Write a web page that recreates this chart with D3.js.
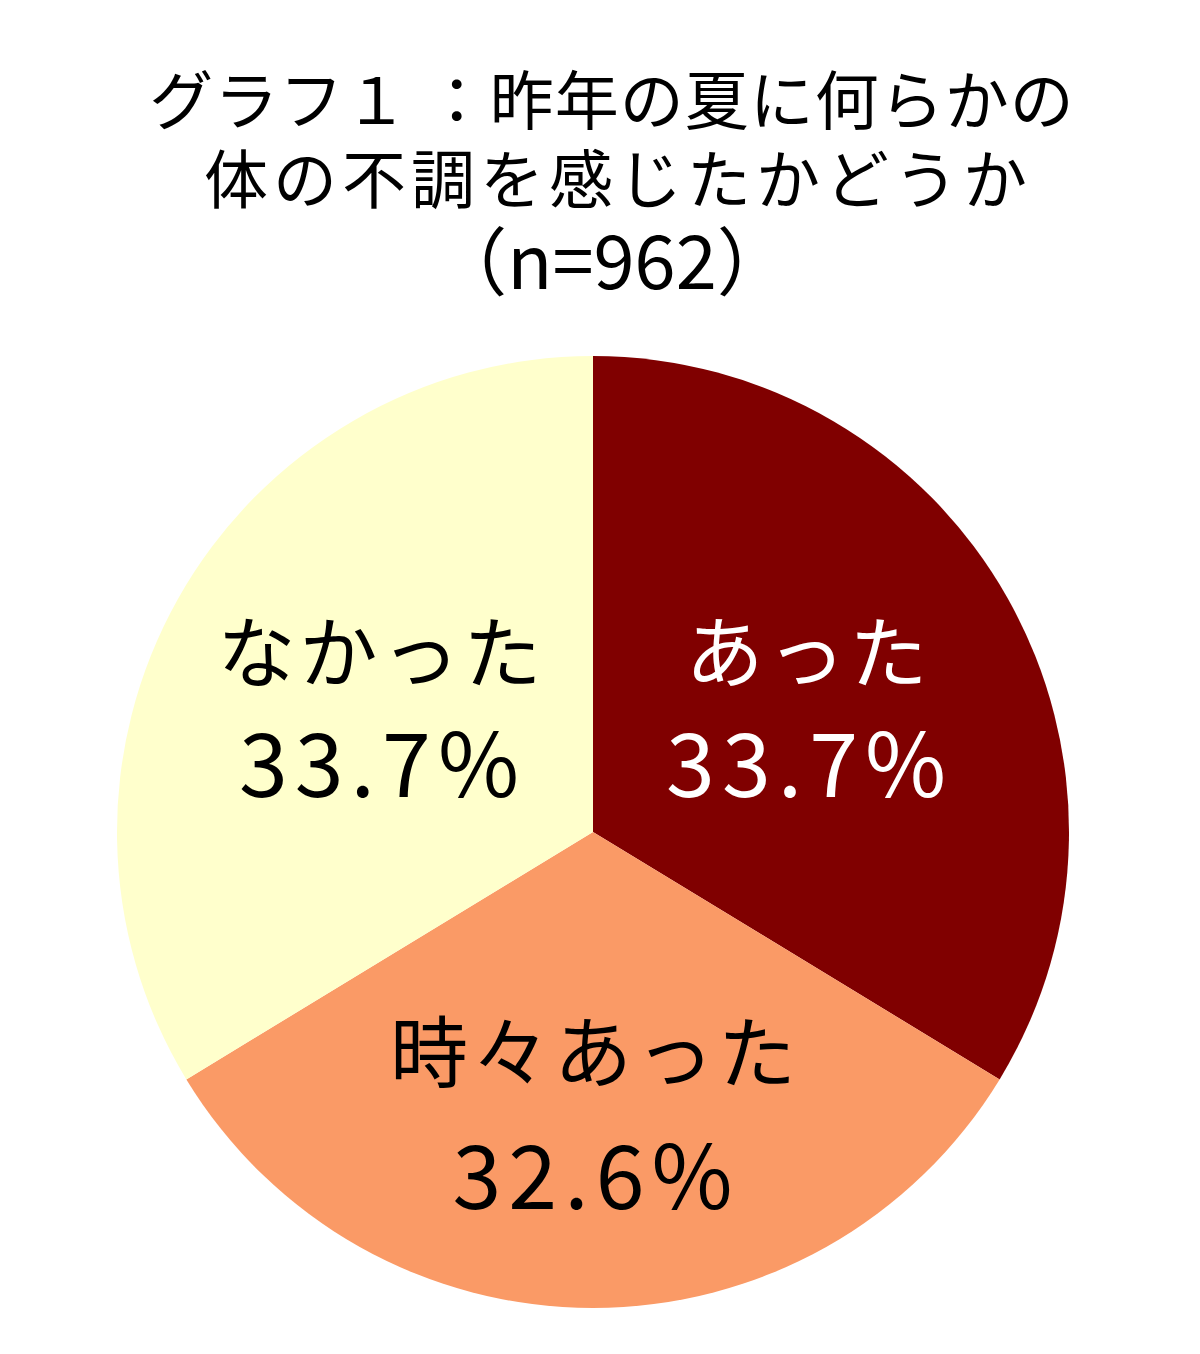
<!DOCTYPE html>
<html>
<head>
<meta charset="utf-8">
<script src="https://cdn.jsdelivr.net/npm/d3@7"></script>
<style>
  body { margin: 0; background: #fff; }
  text { font-family: "Noto Sans CJK JP", sans-serif; }
</style>
</head>
<body>
<div id="chart"></div>
<script>
// data
var titleLines = ["グラフ１ ：昨年の夏に何らかの", "体の不調を感じたかどうか", "（n=962）"];
var categories = ["あった", "時々あった", "なかった"];
var values = [33.7, 32.6, 33.7];
var colors = ["#800000", "#FA9A66", "#FFFFCC"];
var textColors = ["#ffffff", "#000000", "#000000"];

var width = 1200, height = 1354;
var cx = 593, cy = 832, radius = 476;

var svg = d3.select("#chart")
    .append("svg")
    .attr("width", width)
    .attr("height", height);

// title
svg.append("g")
    .selectAll("text")
    .data(titleLines)
    .enter()
    .append("text")
    .attr("x", function (d, i) { return [612, 618, 612][i] })
    .attr("y", function (d, i) { return [96, 175, 256][i] })
    .attr("text-anchor", "middle")
    .attr("dominant-baseline", "central")
    .attr("font-size", function (d, i) { return i == 2 ? 74 : 64 })
    .attr("letter-spacing", function (d, i) { return [1, 5, 0][i] })
    .attr("fill", "#000")
    .text(function (d) { return d });

var data = categories.map(function (c, i) {
    return { name: c, value: values[i], color: colors[i], textColor: textColors[i] };
});

var pie = d3.pie()
    .sort(null)
    .value(function (d) { return d.value });

var arc = d3.arc()
    .innerRadius(0)
    .outerRadius(radius);

var g = svg.append("g")
    .attr("transform", "translate(" + cx + "," + cy + ")");

var arcs = pie(data);

g.selectAll("path")
    .data(arcs)
    .enter()
    .append("path")
    .attr("d", arc)
    .attr("fill", function (d) { return d.data.color });

function isBottom(d) {
    return Math.abs((d.startAngle + d.endAngle) / 2 - Math.PI) < 0.3;
}

// labels: bottom slice sits a bit further out
function labelPos(d) {
    var r = isBottom(d) ? 280 : 245;
    var a = d3.arc().innerRadius(r).outerRadius(r);
    return a.centroid(d);
}

var labels = g.selectAll(".label")
    .data(arcs)
    .enter()
    .append("g")
    .attr("class", "label")
    .attr("transform", function (d) {
        var p = labelPos(d);
        return "translate(" + p[0] + "," + p[1] + ")";
    });

labels.append("text")
    .attr("text-anchor", "middle")
    .attr("dominant-baseline", "central")
    .attr("x", 2)
    .attr("y", function (d) { return isBottom(d) ? -64 : -64 })
    .attr("font-size", 78)
    .attr("letter-spacing", 4)
    .attr("fill", function (d) { return d.data.textColor })
    .text(function (d) { return d.data.name });

labels.append("text")
    .attr("text-anchor", "middle")
    .attr("dominant-baseline", "central")
    .attr("x", 3)
    .attr("y", function (d) { return isBottom(d) ? 58 : 47 })
    .attr("font-size", 88)
    .attr("letter-spacing", 7)
    .attr("fill", function (d) { return d.data.textColor })
    .text(function (d) { return d.data.value.toFixed(1) + "%" });
</script>
</body>
</html>
